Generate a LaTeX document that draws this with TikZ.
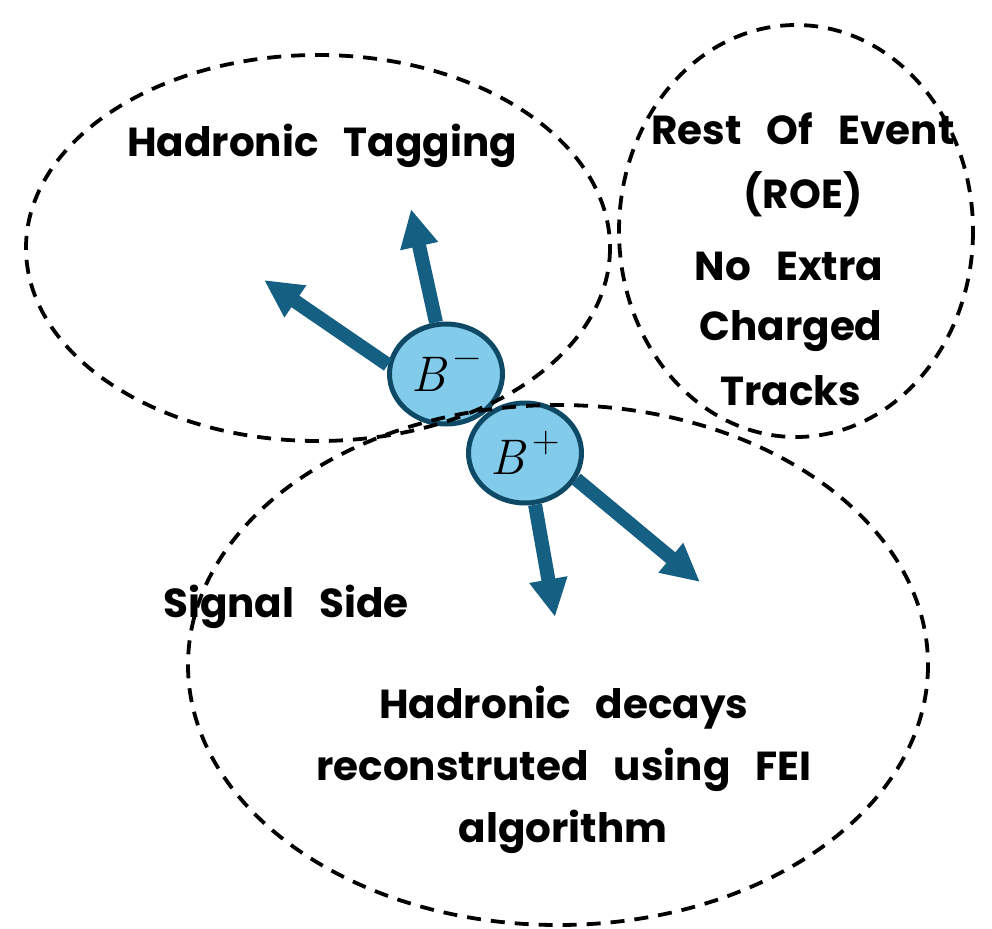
\documentclass[tikz,border=0pt]{standalone}
\usepackage{fontspec}
\setmainfont{Poppins}[BoldFont={* Bold}]
\newfontfamily\lmr{Latin Modern Roman}
\usetikzlibrary{arrows.meta,shapes.geometric}
\definecolor{ballfill}{HTML}{83CBEB}
\definecolor{ballrim}{HTML}{0E4A66}
\definecolor{trackcol}{HTML}{156082}
\newcommand{\gap}{\hspace{0.62em}}
\newcommand{\meson}[1]{{\lmr\itshape B}\kern7pt\raisebox{0.45em}{\lmr\fontsize{38}{38}\selectfont #1}}
\tikzset{
  region/.style={draw=black,line width=3.8pt,dash pattern=on 14pt off 10pt},
  ball/.style={ellipse,draw=ballrim,line width=5pt,fill=ballfill,
    minimum width=113pt,minimum height=100pt,inner sep=0pt,
    font=\fontsize{50}{50}\selectfont},
  track/.style={draw=trackcol,line width=14pt,
    -{Triangle[length=38pt,width=36pt]}},
  lbl/.style={anchor=base,inner sep=0pt,font=\fontsize{40.5}{40}\selectfont\bfseries}
}
\begin{document}
\begin{tikzpicture}[x=1pt,y=-1pt]
\useasboundingbox (0,0) rectangle (992,928);

% the two B mesons
\node[ball] (Bm) at (446,374) {\meson{−}};
\node[ball] (Bp) at (525,453) {\meson{+}};

% free ends of the decay products
\coordinate (tm1) at (411,209);
\coordinate (tm2) at (264,280);
\coordinate (tp1) at (555,617);
\coordinate (tp2) at (700,582);

\draw[track] (Bm.101) -- (tm1);
\draw[track] (Bm.171) -- (tm2);
\draw[track] (Bp.-79) -- (tp1);
\draw[track] (Bp.-27) -- (tp2);

% event regions
\draw[region] (318,248) ellipse [x radius=292,y radius=193];
\draw[region] (796,231) ellipse [x radius=177,y radius=206];
\draw[region] (558,665) ellipse [x radius=370,y radius=260];

% labels
\node[lbl] (tag) at (322,157) {Hadronic\gap Tagging};
\node[lbl] (roe1) at (803,145) {Rest\gap Of\gap Event};
\node[lbl] (roe2) at (803,208) {(ROE)};
\node[lbl] (roe3) at (789,280) {No\gap Extra};
\node[lbl] (roe4) at (791,340) {Charged};
\node[lbl] (roe5) at (791,405) {Tracks};
\node[lbl] (sig) at (286,617) {Signal\gap Side};
\node[lbl] (dec1) at (564,718) {Hadronic\gap decays};
\node[lbl] (dec2) at (564,780) {reconstruted\gap using\gap FEI};
\node[lbl] (dec3) at (563,842) {algorithm};
\end{tikzpicture}
\end{document}
